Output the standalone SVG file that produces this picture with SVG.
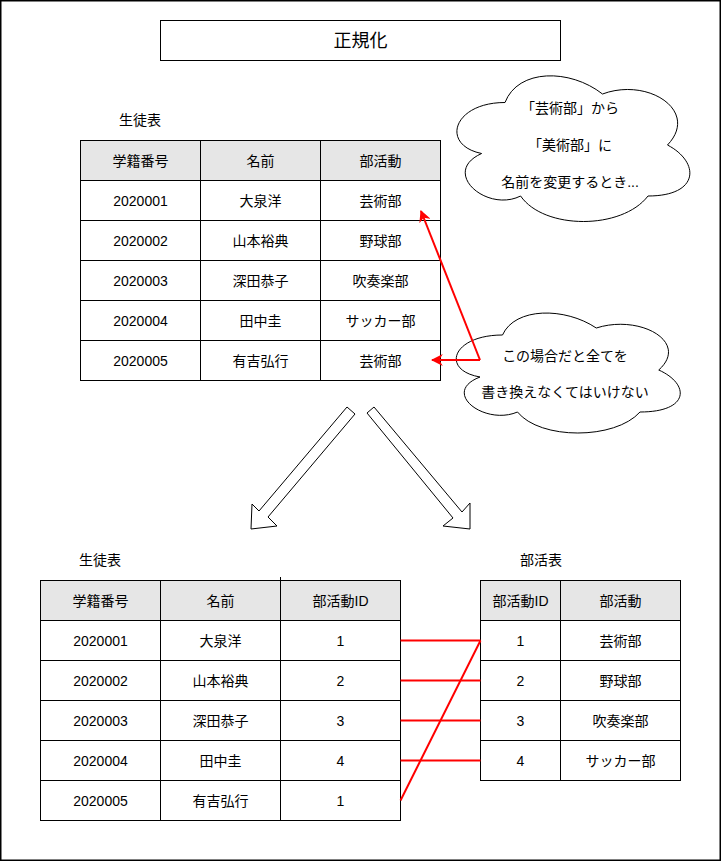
<svg xmlns="http://www.w3.org/2000/svg" width="721" height="861" viewBox="0 0 721 861">
<defs>
<style>
text{font-family:"Liberation Sans","Noto Sans CJK JP",sans-serif;font-size:14px;fill:#000;text-anchor:middle;dominant-baseline:central}
.cell{fill:#fff;stroke:#000;stroke-width:1}
.hdr{fill:#e6e6e6;stroke:#000;stroke-width:1}
.shape{fill:#fff;stroke:#000;stroke-width:1}
.red{stroke:#ff0000;stroke-width:2;fill:none}
</style>
<marker id="ah" viewBox="0 0 10 10" refX="9" refY="5" markerWidth="6" markerHeight="6" markerUnits="strokeWidth" orient="auto">
<path d="M0,0 L10,5 L0,10 L3,5 Z" fill="#ff0000"/>
</marker>
</defs>
<rect x="0.75" y="0.75" width="719.5" height="859.5" fill="#fff" stroke="#000" stroke-width="1.5"/>

<g id="title">
<rect class="shape" x="160.5" y="20.5" width="400" height="40"/>
<text x="360.5" y="41" style="font-size:18px">正規化</text>
</g>

<g id="label-students-top"><text x="140" y="120">生徒表</text></g>

<g id="table-students-top">
<rect class="hdr" x="80.5" y="140.5" width="120" height="40"/>
<rect class="hdr" x="200.5" y="140.5" width="120" height="40"/>
<rect class="hdr" x="320.5" y="140.5" width="120" height="40"/>
<text x="140.5" y="160.5">学籍番号</text><text x="260.5" y="160.5">名前</text><text x="380.5" y="160.5">部活動</text>
<rect class="cell" x="80.5" y="180.5" width="120" height="40"/><rect class="cell" x="200.5" y="180.5" width="120" height="40"/><rect class="cell" x="320.5" y="180.5" width="120" height="40"/>
<text x="140.5" y="200.5">2020001</text><text x="260.5" y="200.5">大泉洋</text><text x="380.5" y="200.5">芸術部</text>
<rect class="cell" x="80.5" y="220.5" width="120" height="40"/><rect class="cell" x="200.5" y="220.5" width="120" height="40"/><rect class="cell" x="320.5" y="220.5" width="120" height="40"/>
<text x="140.5" y="240.5">2020002</text><text x="260.5" y="240.5">山本裕典</text><text x="380.5" y="240.5">野球部</text>
<rect class="cell" x="80.5" y="260.5" width="120" height="40"/><rect class="cell" x="200.5" y="260.5" width="120" height="40"/><rect class="cell" x="320.5" y="260.5" width="120" height="40"/>
<text x="140.5" y="280.5">2020003</text><text x="260.5" y="280.5">深田恭子</text><text x="380.5" y="280.5">吹奏楽部</text>
<rect class="cell" x="80.5" y="300.5" width="120" height="40"/><rect class="cell" x="200.5" y="300.5" width="120" height="40"/><rect class="cell" x="320.5" y="300.5" width="120" height="40"/>
<text x="140.5" y="320.5">2020004</text><text x="260.5" y="320.5">田中圭</text><text x="380.5" y="320.5">サッカー部</text>
<rect class="cell" x="80.5" y="340.5" width="120" height="40"/><rect class="cell" x="200.5" y="340.5" width="120" height="40"/><rect class="cell" x="320.5" y="340.5" width="120" height="40"/>
<text x="140.5" y="360.5">2020005</text><text x="260.5" y="360.5">有吉弘行</text><text x="380.5" y="360.5">芸術部</text>
</g>

<g id="cloud-rename">
<path class="shape" d="M505,102.5 C453,102.5 440,145 481.6,153.5 C440,172.2 486.8,213 520.6,196 C544,230 622,230 648,196 C700,196 700,162 667.5,145 C700,111 648,77 602.5,94 C570,68.5 518,68.5 505,102.5 Z"/>
<text x="570" y="108">「芸術部」から</text>
<text x="570" y="145">「美術部」に</text>
<text x="570" y="182">名前を変更するとき...</text>
</g>

<g id="cloud-rewrite">
<path class="shape" d="M502.5,335 C452.5,335 440,370 480,377 C440,392.4 485,426 517.5,412 C540,440 615,440 640,412 C690,412 690,384 658.75,370 C690,342 640,314 596.25,328 C565,307 515,307 502.5,335 Z"/>
<text x="565" y="356">この場合だと全てを</text>
<text x="565" y="392">書き換えなくてはいけない</text>
</g>

<g id="arrow-left">
<polygon class="shape" points="347,407 355,414 268,517 277,526 251,529 252,504 259,511"/>
</g>
<g id="arrow-right">
<polygon class="shape" points="374,407 462,512 470,503 470,529 443,526 453,518 367,413"/>
</g>

<g id="label-students-bottom"><text x="100" y="560">生徒表</text></g>
<g id="label-clubs"><text x="541" y="560">部活表</text></g>

<g id="table-students-bottom">
<rect class="hdr" x="40.5" y="580.5" width="120" height="40"/>
<rect class="hdr" x="160.5" y="580.5" width="120" height="40"/>
<rect class="hdr" x="280.5" y="580.5" width="120" height="40"/>
<line x1="280.5" y1="577" x2="280.5" y2="581" stroke="#000"/>
<text x="100.5" y="600.5">学籍番号</text><text x="220.5" y="600.5">名前</text><text x="340.5" y="600.5">部活動ID</text>
<rect class="cell" x="40.5" y="620.5" width="120" height="40"/><rect class="cell" x="160.5" y="620.5" width="120" height="40"/><rect class="cell" x="280.5" y="620.5" width="120" height="40"/>
<text x="100.5" y="640.5">2020001</text><text x="220.5" y="640.5">大泉洋</text><text x="340.5" y="640.5">1</text>
<rect class="cell" x="40.5" y="660.5" width="120" height="40"/><rect class="cell" x="160.5" y="660.5" width="120" height="40"/><rect class="cell" x="280.5" y="660.5" width="120" height="40"/>
<text x="100.5" y="680.5">2020002</text><text x="220.5" y="680.5">山本裕典</text><text x="340.5" y="680.5">2</text>
<rect class="cell" x="40.5" y="700.5" width="120" height="40"/><rect class="cell" x="160.5" y="700.5" width="120" height="40"/><rect class="cell" x="280.5" y="700.5" width="120" height="40"/>
<text x="100.5" y="720.5">2020003</text><text x="220.5" y="720.5">深田恭子</text><text x="340.5" y="720.5">3</text>
<rect class="cell" x="40.5" y="740.5" width="120" height="40"/><rect class="cell" x="160.5" y="740.5" width="120" height="40"/><rect class="cell" x="280.5" y="740.5" width="120" height="40"/>
<text x="100.5" y="760.5">2020004</text><text x="220.5" y="760.5">田中圭</text><text x="340.5" y="760.5">4</text>
<rect class="cell" x="40.5" y="780.5" width="120" height="40"/><rect class="cell" x="160.5" y="780.5" width="120" height="40"/><rect class="cell" x="280.5" y="780.5" width="120" height="40"/>
<text x="100.5" y="800.5">2020005</text><text x="220.5" y="800.5">有吉弘行</text><text x="340.5" y="800.5">1</text>
</g>

<g id="table-clubs">
<rect class="hdr" x="480.5" y="580.5" width="80" height="40"/>
<rect class="hdr" x="560.5" y="580.5" width="120" height="40"/>
<text x="520.5" y="600.5">部活動ID</text><text x="620.5" y="600.5">部活動</text>
<rect class="cell" x="480.5" y="620.5" width="80" height="40"/><rect class="cell" x="560.5" y="620.5" width="120" height="40"/>
<text x="520.5" y="640.5">1</text><text x="620.5" y="640.5">芸術部</text>
<rect class="cell" x="480.5" y="660.5" width="80" height="40"/><rect class="cell" x="560.5" y="660.5" width="120" height="40"/>
<text x="520.5" y="680.5">2</text><text x="620.5" y="680.5">野球部</text>
<rect class="cell" x="480.5" y="700.5" width="80" height="40"/><rect class="cell" x="560.5" y="700.5" width="120" height="40"/>
<text x="520.5" y="720.5">3</text><text x="620.5" y="720.5">吹奏楽部</text>
<rect class="cell" x="480.5" y="740.5" width="80" height="40"/><rect class="cell" x="560.5" y="740.5" width="120" height="40"/>
<text x="520.5" y="760.5">4</text><text x="620.5" y="760.5">サッカー部</text>
</g>

<g id="connectors">
<line class="red" x1="480" y1="360" x2="432" y2="360" marker-end="url(#ah)"/>
<line class="red" x1="480" y1="360" x2="421" y2="211" marker-end="url(#ah)"/>
<line class="red" x1="400.5" y1="640.5" x2="480.5" y2="640.5"/>
<line class="red" x1="400.5" y1="680.5" x2="480.5" y2="680.5"/>
<line class="red" x1="400.5" y1="720.5" x2="480.5" y2="720.5"/>
<line class="red" x1="400.5" y1="760.5" x2="480.5" y2="760.5"/>
<line class="red" x1="400.5" y1="800.5" x2="480.5" y2="640.5"/>
</g>
</svg>
